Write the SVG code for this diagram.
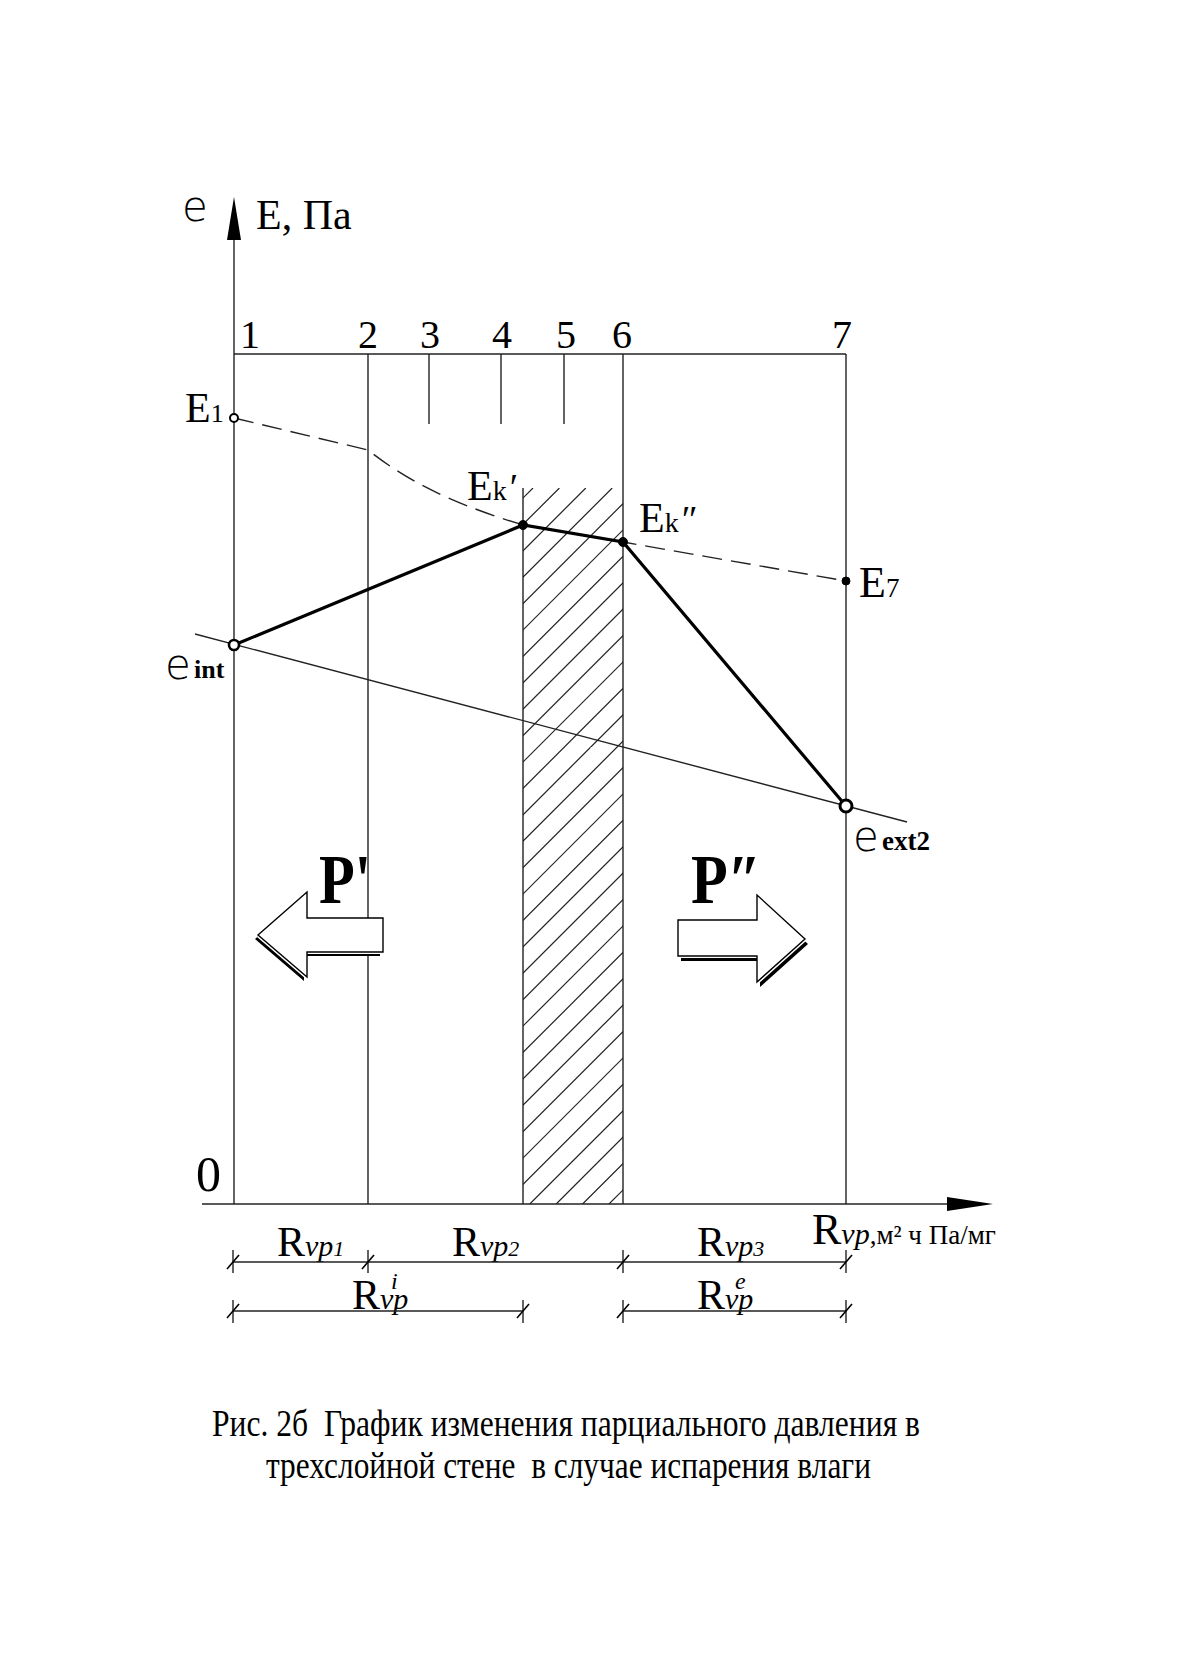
<svg xmlns="http://www.w3.org/2000/svg" width="1180" height="1653" viewBox="0 0 1180 1653">
<style>
.thin{fill:none;stroke:#222;stroke-width:1.4}
.thick{fill:none;stroke:#000;stroke-width:3.2}
.dash{fill:none;stroke:#222;stroke-width:1.4;stroke-dasharray:20 9}
.hatch{fill:none;stroke:#222;stroke-width:1.2}
.t{font-family:"Liberation Serif","Times New Roman",serif;fill:#000}
.sym{font-family:"DejaVu Sans","Liberation Sans",sans-serif;font-weight:200;fill:#000}
.it{font-style:italic}
.pre{white-space:pre}
.open{fill:#fff;stroke:#000}
.dot{fill:#000;stroke:#000}
.arrowbody{fill:#fff;stroke:#000;stroke-width:1.4}
</style>
<defs>
<clipPath id="hclip"><rect x="523" y="488" width="100" height="716"/></clipPath>
<g id="tick"><line x1="-6" y1="7" x2="6" y2="-7" stroke="#000" stroke-width="1.6"/></g>
</defs>
<rect width="1180" height="1653" fill="#fff"/>

<!-- hatch -->
<g id="hatching" clip-path="url(#hclip)">
<path class="hatch" d="M533,488L-183,1204M559.4,488L-156.6,1204M585.8,488L-130.2,1204M612.2,488L-103.8,1204M638.6,488L-77.4,1204M665,488L-51,1204M691.4,488L-24.6,1204M717.8,488L1.8,1204M744.2,488L28.2,1204M770.6,488L54.6,1204M797,488L81,1204M823.4,488L107.4,1204M849.8,488L133.8,1204M876.2,488L160.2,1204M902.6,488L186.6,1204M929,488L213,1204M955.4,488L239.4,1204M981.8,488L265.8,1204M1008.2,488L292.2,1204M1034.6,488L318.6,1204M1061,488L345,1204M1087.4,488L371.4,1204M1113.8,488L397.8,1204M1140.2,488L424.2,1204M1166.6,488L450.6,1204M1193,488L477,1204M1219.4,488L503.4,1204M1245.8,488L529.8,1204M1272.2,488L556.2,1204M1298.6,488L582.6,1204M1325,488L609,1204"/>
<path d="M528,761L602,747" fill="none" stroke="#fff" stroke-width="4" stroke-dasharray="20 12"/>
</g>

<!-- frame and axes -->
<g id="frame">
<line class="thin" x1="234" y1="354" x2="846" y2="354"/>
<line class="thin" x1="234" y1="236" x2="234" y2="1204"/>
<line class="thin" x1="368" y1="354" x2="368" y2="1204"/>
<line class="thin" x1="523" y1="488" x2="523" y2="1204"/>
<line class="thin" x1="623" y1="354" x2="623" y2="1204"/>
<line class="thin" x1="846" y1="354" x2="846" y2="1204"/>
<line class="thin" x1="429" y1="354" x2="429" y2="424"/>
<line class="thin" x1="501" y1="354" x2="501" y2="424"/>
<line class="thin" x1="564" y1="354" x2="564" y2="424"/>
<line class="thin" x1="202" y1="1204" x2="950" y2="1204"/>
<polygon points="234,197 227,240 241,240" fill="#000"/>
<polygon points="993,1204 947,1197 947,1211" fill="#000"/>
</g>

<!-- connectors / curves -->
<g id="connectors">
<path class="dash" d="M234,418 L368,450 C400,475 440,500 523,525 L623,542 L846,581"/>
<line class="thin" x1="195" y1="634" x2="907" y2="822"/>
<polyline class="thick" points="234,645 523,525 623,542 846,806"/>
</g>

<!-- points -->
<g id="points">
<circle id="pE1" class="open" cx="234" cy="418" r="4" stroke-width="2"/>
<circle id="peint" class="open" cx="234" cy="645" r="5" stroke-width="2.6"/>
<circle id="peext2" class="open" cx="846" cy="806" r="6" stroke-width="3"/>
<circle id="pEk1" class="dot" cx="523" cy="525" r="4.5"/>
<circle id="pEk2" class="dot" cx="623" cy="542" r="4.5"/>
<circle id="pE7" class="dot" cx="846" cy="581" r="4"/>
</g>

<!-- big arrows -->
<g id="arrowLeft">
<polygon points="255,939 304,896 304,922 380,922 380,956 304,956 304,981" fill="#000"/>
<polygon points="257,937 306,894 306,920 382,920 382,954 306,954 306,979" fill="#fff"/>
<polygon class="arrowbody" points="258,935 307,892 307,918 383,918 383,952 307,952 307,977"/>
</g>
<g id="arrowRight">
<polygon points="681,925 760,925 760,900 808,944 760,987 760,961 681,961" fill="#000"/>
<polygon points="679,922 758,922 758,897 806,941 758,984 758,958 679,958" fill="#fff"/>
<polygon class="arrowbody" points="678,920 757,920 757,895 805,939 757,982 757,956 678,956"/>
</g>

<!-- labels -->
<g id="labels">
<text class="sym" x="182" y="221" font-size="42">e</text>
<text class="t" x="256" y="229" font-size="42">E, Па</text>

<text class="t" x="250" y="348" font-size="40" text-anchor="middle">1</text>
<text class="t" x="368" y="348" font-size="40" text-anchor="middle">2</text>
<text class="t" x="430" y="348" font-size="40" text-anchor="middle">3</text>
<text class="t" x="502" y="348" font-size="40" text-anchor="middle">4</text>
<text class="t" x="566" y="348" font-size="40" text-anchor="middle">5</text>
<text class="t" x="622" y="348" font-size="40" text-anchor="middle">6</text>
<text class="t" x="842" y="348" font-size="40" text-anchor="middle">7</text>

<text class="t" x="185" y="422" font-size="42">E<tspan font-size="26">1</tspan></text>
<text class="t" x="467" y="500" font-size="42">E<tspan font-size="28">k</tspan><tspan font-size="38" dx="3">′</tspan></text>
<text class="t" x="639" y="532" font-size="42">E<tspan font-size="28">k</tspan><tspan font-size="38" dx="3">″</tspan></text>
<text class="t" x="859" y="597" font-size="44">E<tspan font-size="27">7</tspan></text>

<text class="sym" x="165" y="679" font-size="42">e</text>
<text class="t" x="194" y="678" font-size="26" font-weight="bold">int</text>
<text class="sym" x="853" y="851" font-size="42">e</text>
<text class="t" x="882" y="850" font-size="27" font-weight="bold">ext2</text>

<text class="t" x="319" y="903" font-size="70" font-weight="bold" textLength="52" lengthAdjust="spacingAndGlyphs">P'</text>
<text class="t" x="691" y="903" font-size="70" font-weight="bold" textLength="70" lengthAdjust="spacingAndGlyphs">P″</text>

<text class="t" x="196" y="1191" font-size="50">0</text>

<text class="t" x="812" y="1244" font-size="44">R<tspan class="it" font-size="30">vp</tspan><tspan font-size="27">,м² ч Па/мг</tspan></text>

<text class="t" x="277" y="1256" font-size="42">R<tspan class="it" font-size="30">vp</tspan><tspan class="it" font-size="22">1</tspan></text>
<text class="t" x="452" y="1256" font-size="42">R<tspan class="it" font-size="30">vp</tspan><tspan class="it" font-size="22">2</tspan></text>
<text class="t" x="697" y="1256" font-size="42">R<tspan class="it" font-size="30">vp</tspan><tspan class="it" font-size="22">3</tspan></text>

<text class="t" x="352" y="1309" font-size="42">R<tspan class="it" font-size="30">vp</tspan><tspan class="it" font-size="24" x="391" y="1289">i</tspan></text>
<text class="t" x="697" y="1309" font-size="42">R<tspan class="it" font-size="30">vp</tspan><tspan class="it" font-size="24" x="735" y="1289">e</tspan></text>
</g>

<!-- dimension lines -->
<g id="dimensions">
<line class="thin" x1="233" y1="1262" x2="846" y2="1262"/>
<line class="thin" x1="233" y1="1250" x2="233" y2="1273"/>
<line class="thin" x1="368" y1="1250" x2="368" y2="1273"/>
<line class="thin" x1="623" y1="1250" x2="623" y2="1273"/>
<line class="thin" x1="846" y1="1250" x2="846" y2="1273"/>
<use href="#tick" x="233" y="1262"/>
<use href="#tick" x="368" y="1262"/>
<use href="#tick" x="623" y="1262"/>
<use href="#tick" x="846" y="1262"/>
<line class="thin" x1="233" y1="1311" x2="523" y2="1311"/>
<line class="thin" x1="623" y1="1311" x2="846" y2="1311"/>
<line class="thin" x1="233" y1="1300" x2="233" y2="1323"/>
<line class="thin" x1="523" y1="1300" x2="523" y2="1323"/>
<line class="thin" x1="623" y1="1300" x2="623" y2="1323"/>
<line class="thin" x1="846" y1="1300" x2="846" y2="1323"/>
<use href="#tick" x="233" y="1311"/>
<use href="#tick" x="523" y="1311"/>
<use href="#tick" x="623" y="1311"/>
<use href="#tick" x="846" y="1311"/>
</g>

<!-- caption -->
<g id="caption">
<text class="t pre" xml:space="preserve" x="212" y="1436" font-size="38" textLength="708" lengthAdjust="spacingAndGlyphs">Рис. 2б  График изменения парциального давления в</text>
<text class="t pre" xml:space="preserve" x="266" y="1478" font-size="38" textLength="605" lengthAdjust="spacingAndGlyphs">трехслойной стене  в случае испарения влаги</text>
</g>
</svg>
